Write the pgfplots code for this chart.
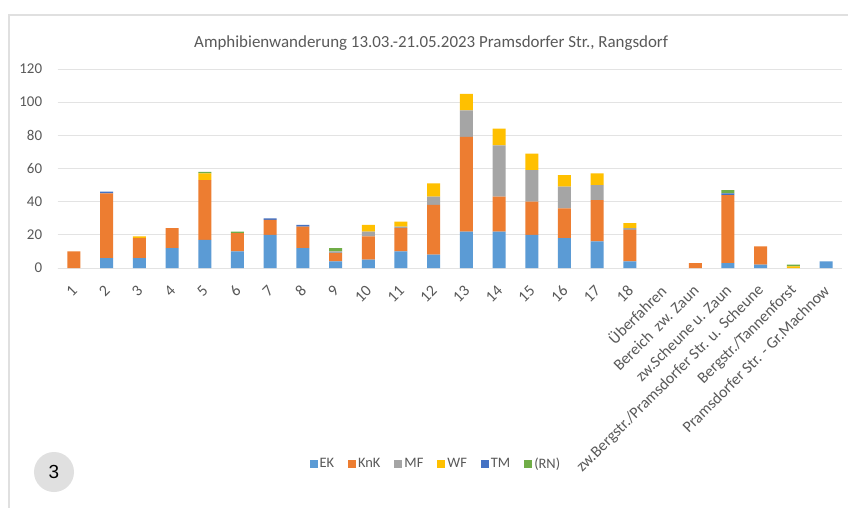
\documentclass[border=0pt]{standalone}
\usepackage{fontspec}
\setmainfont{Carlito}
\newfontfamily\circfont{Liberation Sans}
\usepackage{pgfplots}
\usepackage{pgfplotstable}
\pgfplotsset{compat=1.18}

\definecolor{cEK}{HTML}{5B9BD5}
\definecolor{cKnK}{HTML}{ED7D31}
\definecolor{cMF}{HTML}{A5A5A5}
\definecolor{cWF}{HTML}{FFC000}
\definecolor{cTM}{HTML}{4472C4}
\definecolor{cRN}{HTML}{70AD47}
\definecolor{txt}{HTML}{595959}
\definecolor{gridc}{HTML}{E3E3E3}

% x EK KnK MF WF TM RN
\pgfplotstableread{
x EK KnK MF WF TM RN
0 0 10 0 0 0 0
1 6 39 0 0 1 0
2 6 12 0 1 0 0
3 12 12 0 0 0 0
4 17 36 0 4 0 1
5 10 11 0 0 0 1
6 20 9 0 0 1 0
7 12 13 0 0 1 0
8 4 5 1 0 0 2
9 5 14 3 4 0 0
10 10 14 1 3 0 0
11 8 30 5 8 0 0
12 22 57 16 10 0 0
13 22 21 31 10 0 0
14 20 20 19 10 0 0
15 18 18 13 7 0 0
16 16 25 9 7 0 0
17 4 19 1 3 0 0
18 0 0 0 0 0 0
19 0 3 0 0 0 0
20 3 41 0 0 1 2
21 2 11 0 0 0 0
22 0 0 0 1 0 1
23 4 0 0 0 0 0
}\amph

\begin{document}
\begin{tikzpicture}
\useasboundingbox (-57.6bp,-240bp) rectangle (801.4bp,268bp);
\fill[white] (-57.6bp,-240bp) rectangle (801.4bp,268bp);
\draw[black!12, line width=1.2bp] (-48.6bp,-240bp) -- (-48.6bp,253bp) -- (790.4bp,253bp);
\begin{axis}[
  at={(0,0)}, anchor=south west,
  scale only axis,
  width=784.8bp, height=199bp,
  ybar stacked, bar width=13bp,
  xmin=-0.5, xmax=23.5, ymin=0, ymax=120,
  ytick={0,20,...,120},
  xtick=data,
  xticklabels={1,2,3,4,5,6,7,8,9,10,11,12,13,14,15,16,17,18,Überfahren,Bereich\ \ zw. Zaun,zw.Scheune u. Zaun,zw.Bergstr./Pramsdorfer Str. u. Scheune,Bergstr./Tannenforst,Pramsdorfer Str. - Gr.Machnow},
  axis y line*=left,
  y axis line style={draw=none},
  axis x line*=bottom,
  x axis line style={draw=gridc, line width=0.8bp, -},
  ymajorgrids, grid style={draw=gridc, line width=0.8bp},
  major tick length=0pt,
  /pgf/number format/assume math mode=true,
  ticklabel style={text=txt},
  yticklabel style={font=\fontsize{15}{17}\selectfont, xshift=-12bp},
  xticklabel style={font=\fontsize{16}{18}\selectfont, rotate=45, anchor=east, inner sep=1bp, yshift=-14.6bp, xshift=-12.6bp},
  title={Amphibienwanderung 13.03.-21.05.2023 Pramsdorfer Str., Rangsdorf},
  title style={font=\fontsize{17}{19}\selectfont, text=txt, at={(0.476,1)}, anchor=south, yshift=9bp},
  legend columns=-1,
  legend style={draw=none, fill=none, at={(0.482,-0.985)}, anchor=center,
    font=\fontsize{14.5}{16}\selectfont, text=txt,
    /tikz/every even column/.append style={column sep=12bp}},
  legend image code/.code={\fill[#1] (0bp,-4bp) rectangle (8bp,4bp);},
  every axis plot/.append style={draw=none},
]
\addplot[fill=cEK] table[x=x,y=EK] {\amph};
\addplot[fill=cKnK] table[x=x,y=KnK] {\amph};
\addplot[fill=cMF] table[x=x,y=MF] {\amph};
\addplot[fill=cWF] table[x=x,y=WF] {\amph};
\addplot[fill=cTM] table[x=x,y=TM] {\amph};
\addplot[fill=cRN] table[x=x,y=RN] {\amph};
\legend{EK,KnK,MF,WF,TM,(RN)}
\end{axis}
\fill[black!12] (-3.6bp,-204bp) circle (20bp);
\node[font=\circfont\fontsize{19}{20}\selectfont] at (-3.6bp,-204bp) {3};
\end{tikzpicture}
\end{document}
